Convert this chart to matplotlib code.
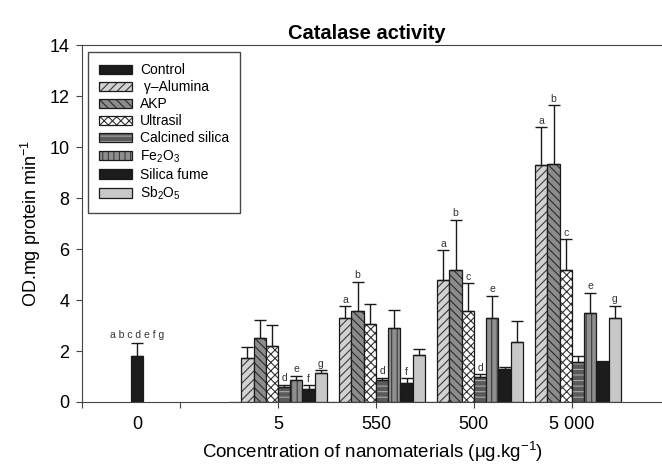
import numpy as np
import matplotlib
matplotlib.use("Agg")
import matplotlib.pyplot as plt

plt.rcParams['font.family'] = ['Liberation Sans', 'DejaVu Sans']
plt.rcParams['mathtext.fontset'] = 'custom'
plt.rcParams['mathtext.rm'] = 'Liberation Sans'
plt.rcParams['mathtext.it'] = 'Liberation Sans:italic'
plt.rcParams['hatch.linewidth'] = 0.8

# data
group_labels = ['5', '550', '500', '5 000']
group_pos = [2, 3, 4, 5]

control_pos = [1, 2, 3, 4, 5]
control = [1.82, 0, 0, 0, 0]
control_err = [0.48, 0, 0, 0, 0]

alumina = [1.71, 3.28, 4.78, 9.29]
alumina_err = [0.46, 0.48, 1.19, 1.51]
akp = [2.51, 3.56, 5.18, 9.36]
akp_err = [0.69, 1.17, 1.98, 2.31]
ultrasil = [2.21, 3.08, 3.57, 5.19]
ultrasil_err = [0.80, 0.76, 1.10, 1.20]
calcined = [0.59, 0.86, 0.98, 1.58]
calcined_err = [0.09, 0.09, 0.12, 0.22]
fe2o3 = [0.86, 2.89, 3.28, 3.48]
fe2o3_err = [0.17, 0.73, 0.90, 0.81]
fume = [0.50, 0.75, 1.31, 1.61]
fume_err = [0.15, 0.18, 0.06, 0.0]
sb2o5 = [1.12, 1.86, 2.37, 3.28]
sb2o5_err = [0.13, 0.23, 0.79, 0.50]

alumina_let = ['', 'a', 'a', 'a']
akp_let = ['', 'b', 'b', 'b']
ultrasil_let = ['', '', 'c', 'c']
calcined_let = ['d', 'd', 'd', '']
fe2o3_let = ['e', '', 'e', 'e']
fume_let = ['f', 'f', '', '']
sb2o5_let = ['g', '', '', 'g']

width = 0.125

fig = plt.figure(figsize=(6.62, 4.69), dpi=100)
ax = fig.add_axes([0.124, 0.143, 0.876, 0.76])


def draw(pos, vals, errs, idx, fill, hatch, hcol, lets=None):
    x = np.array(pos) + (idx - 3.5) * width
    b1 = ax.bar(x, vals, width, color=fill, hatch=hatch, edgecolor=hcol, linewidth=0)
    b2 = ax.bar(x, vals, width, fill=False, edgecolor='#1a1a1a', linewidth=0.9)
    e = np.array(errs)
    v = np.array(vals)
    m = e > 0
    ax.errorbar(x[m], v[m], yerr=[np.zeros(m.sum()), e[m]], fmt='none',
                ecolor='#1a1a1a', elinewidth=1, capsize=4, capthick=1)
    if lets:
        for xi, vi, ei, l in zip(x, v, e, lets):
            if l:
                ax.text(xi, vi + ei + 0.05, l, ha='center', va='bottom',
                        fontsize=7.5, color='#333333')
    return (b1, b2)


h = []
h.append(draw(control_pos, control, control_err, 0, '#1c1c1c', None, '#1c1c1c'))
h.append(draw(group_pos, alumina, alumina_err, 1, '#d2d2d2', '////', '#3a3a3a', alumina_let))
h.append(draw(group_pos, akp, akp_err, 2, '#8c8c8c', '\\\\\\\\', '#2a2a2a', akp_let))
h.append(draw(group_pos, ultrasil, ultrasil_err, 3, '#ffffff', 'xxxx', '#333333', ultrasil_let))
h.append(draw(group_pos, calcined, calcined_err, 4, '#5a5a5a', '---', '#a8a8a8', calcined_let))
h.append(draw(group_pos, fe2o3, fe2o3_err, 5, '#8e8e8e', '|||', '#3a3a3a', fe2o3_let))
h.append(draw(group_pos, fume, fume_err, 6, '#1c1c1c', None, '#1c1c1c', fume_let))
h.append(draw(group_pos, sb2o5, sb2o5_err, 7, '#c8c8c8', None, '#c8c8c8', sb2o5_let))

ax.text(1 - 3.5 * width, control[0] + control_err[0] + 0.15, 'a b c d e f g',
        ha='center', va='bottom', fontsize=7.5, color='#333333')

labels = ['Control', ' \u03b3\u2013Alumina', 'AKP', 'Ultrasil', 'Calcined silica',
          'Fe$_2$O$_3$', 'Silica fume', 'Sb$_2$O$_5$']
leg = ax.legend(h, labels, loc='upper left', bbox_to_anchor=(0.01, 0.982),
                fontsize=10, frameon=True, fancybox=False, handlelength=2.35,
                handleheight=0.65, labelspacing=0.22, borderpad=0.8,
                borderaxespad=0, handletextpad=0.6)
leg.get_frame().set_edgecolor('#1a1a1a')
leg.get_frame().set_linewidth(1)

ax.set_xlim(0, 5.92)
ax.set_ylim(0, 14)
ax.set_yticks(np.arange(0, 15, 2))
ax.xaxis.remove_overlapping_locs = False
ax.set_xticks([0, 1, 2, 3, 4, 5])
ax.set_xticklabels([])
ax.set_xticks([1 - 3.5 * width] + group_pos, minor=True)
ax.set_xticklabels(['0'] + group_labels, minor=True)
ax.tick_params(axis='x', which='minor', length=0, labelsize=13, pad=10)
ax.tick_params(axis='x', which='major', length=4, color='#444444')
ax.tick_params(axis='y', length=4, pad=5, labelsize=13, color='#444444')
for s in ['left', 'bottom', 'top']:
    ax.spines[s].set_color('#444444')
ax.spines['right'].set_visible(False)

ax.set_ylabel('OD.mg protein min$^{-1}$', fontsize=13, labelpad=5)
ax.set_xlabel('Concentration of nanomaterials (\u03bcg.kg$^{-1}$)', fontsize=13.5, labelpad=5)
ax.set_title('Catalase activity', fontsize=14.5, fontweight='bold', pad=5, x=0.491)

fig.savefig('out.png', dpi=100)
